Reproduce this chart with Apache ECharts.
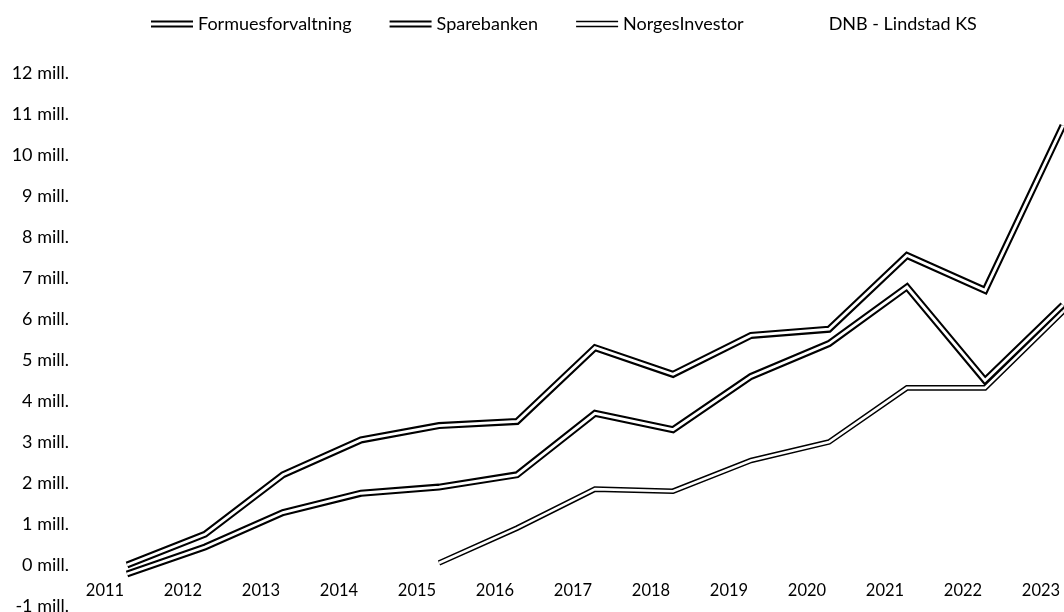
<!DOCTYPE html>
<html>
<head>
<meta charset="utf-8">
<script src="https://cdn.jsdelivr.net/npm/echarts@6/dist/echarts.min.js"></script>
<style>
  html, body { margin: 0; padding: 0; background: #fff; }
  #chart { width: 1064px; height: 612px; }
</style>
</head>
<body>
<div id="chart"></div>
<script>
// År og verdier (mill.)
const years = ['2011', '2012', '2013', '2014', '2015', '2016', '2017', '2018', '2019', '2020', '2021', '2022', '2023'];
const formues = [0.0, 0.75, 2.2, 3.05, 3.4, 3.5, 5.3, 4.65, 5.6, 5.75, 7.55, 6.7, 10.72];
const sparebanken = [-0.22, 0.44, 1.28, 1.75, 1.9, 2.2, 3.7, 3.3, 4.6, 5.4, 6.78, 4.5, 6.34];
const norges = [null, null, null, null, 0.05, 0.9, 1.85, 1.8, 2.55, 3.0, 4.32, 4.32, 6.18];
const dnb = [null, null, null, null, null, null, null, null, null, null, null, null, null];
const yMin = -1;
const yMax = 12;

const FONT = 'Lato';
const thickIcon = 'path://M0,0H42V2H0Z M0,5H42V7H0Z';
const thinIcon = 'path://M0,0.5H42V2H0Z M0,5.5H42V7H0Z';

// dobbel linje: svart bred linje med hvit linje oppå
function doubleLine(name, data, outer, inner) {
  const base = {
    name: name,
    type: 'line',
    data: data,
    showSymbol: false,
    symbol: 'none',
    silent: true,
    connectNulls: false,
    emphasis: { disabled: true }
  };
  return [
    Object.assign({}, base, {
      color: '#000',
      lineStyle: { color: '#000', width: outer, join: 'miter', cap: 'butt' }
    }),
    Object.assign({}, base, {
      color: '#fff',
      lineStyle: { color: '#fff', width: inner, join: 'miter', cap: 'butt' }
    })
  ];
}

const chart = echarts.init(document.getElementById('chart'));

chart.setOption({
  animation: false,
  backgroundColor: '#fff',
  textStyle: { fontFamily: FONT },
  legend: {
    left: 146,
    top: 10,
    itemWidth: 42,
    itemHeight: 7,
    itemGap: 38,
    textStyle: { fontFamily: FONT, fontSize: 18, color: '#000' },
    data: [
      { name: 'Formuesforvaltning', icon: thickIcon, itemStyle: { color: '#000' } },
      { name: 'Sparebanken', icon: thickIcon, itemStyle: { color: '#000' } },
      { name: 'NorgesInvestor', icon: thinIcon, itemStyle: { color: '#000' } },
      { name: 'DNB - Lindstad KS', icon: thinIcon, itemStyle: { color: '#fff' } }
    ]
  },
  grid: { left: 127, right: 1, top: 73, bottom: 6, containLabel: false, outerBoundsMode: 'none' },
  xAxis: {
    type: 'category',
    data: years,
    boundaryGap: false,
    // etikettene står mellom 0 og -1 mill.
    axisLine: { show: false, onZero: false },
    axisTick: { show: false },
    splitLine: { show: false },
    axisLabel: {
      fontFamily: FONT,
      fontSize: 16.5,
      color: '#000',
      margin: -24,
      padding: [0, 44, 0, 0],
      interval: 0
    }
  },
  yAxis: {
    type: 'value',
    min: yMin,
    max: yMax,
    interval: 1,
    axisLine: { show: false },
    axisTick: { show: false },
    splitLine: { show: false },
    axisLabel: {
      fontFamily: FONT,
      fontSize: 18,
      color: '#000',
      margin: 58,
      formatter: function (v) { return v + ' mill.'; }
    }
  },
  series: [].concat(
    doubleLine('Formuesforvaltning', formues, 7, 2.8),
    doubleLine('Sparebanken', sparebanken, 7, 2.8),
    doubleLine('NorgesInvestor', norges, 5.6, 2.6),
    doubleLine('DNB - Lindstad KS', dnb, 5.6, 2.6)
  )
});
</script>
</body>
</html>
